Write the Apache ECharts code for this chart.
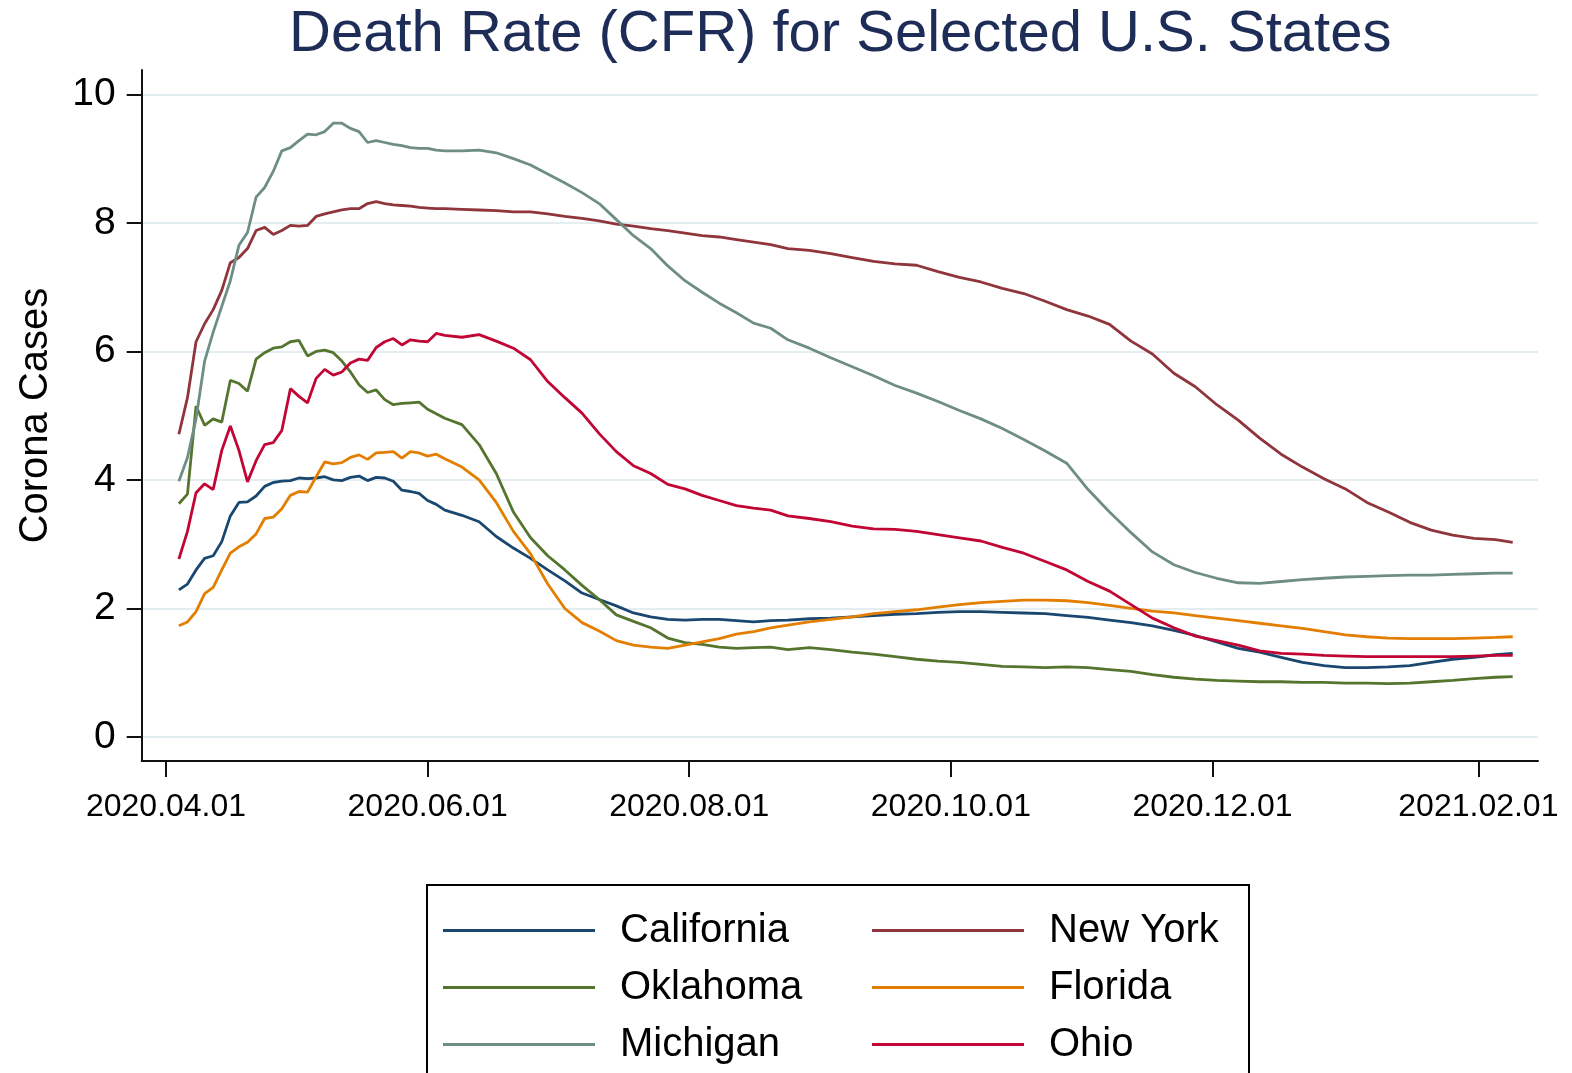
<!DOCTYPE html>
<html>
<head>
<meta charset="utf-8">
<title>Death Rate (CFR) for Selected U.S. States</title>
<script src="https://cdn.jsdelivr.net/npm/echarts@6/dist/echarts.min.js"></script>
<style>
  html, body { margin: 0; padding: 0; background: #fff; }
  #chart { width: 1572px; height: 1073px; }
</style>
</head>
<body>
<div id="chart"></div>
<script>
// 日期（每两天 / 四天 / 五天取一个点）
const dates = [
  '2020-04-04', '2020-04-06', '2020-04-08', '2020-04-10', '2020-04-12', '2020-04-14', '2020-04-16', '2020-04-18',
  '2020-04-20', '2020-04-22', '2020-04-24', '2020-04-26', '2020-04-28', '2020-04-30', '2020-05-02', '2020-05-04',
  '2020-05-06', '2020-05-08', '2020-05-10', '2020-05-12', '2020-05-14', '2020-05-16', '2020-05-18', '2020-05-20',
  '2020-05-22', '2020-05-24', '2020-05-26', '2020-05-28', '2020-05-30', '2020-06-01', '2020-06-03',
  '2020-06-05', '2020-06-09', '2020-06-13', '2020-06-17', '2020-06-21', '2020-06-25', '2020-06-29', '2020-07-03',
  '2020-07-07', '2020-07-11', '2020-07-15', '2020-07-19', '2020-07-23', '2020-07-27', '2020-07-31', '2020-08-04',
  '2020-08-08', '2020-08-12', '2020-08-16', '2020-08-20', '2020-08-24',
  '2020-08-29', '2020-09-03', '2020-09-08', '2020-09-13', '2020-09-18', '2020-09-23', '2020-09-28', '2020-10-03',
  '2020-10-08', '2020-10-13', '2020-10-18', '2020-10-23', '2020-10-28', '2020-11-02', '2020-11-07', '2020-11-12',
  '2020-11-17', '2020-11-22', '2020-11-27', '2020-12-02', '2020-12-07', '2020-12-12', '2020-12-17', '2020-12-22',
  '2020-12-27', '2021-01-01', '2021-01-06', '2021-01-11', '2021-01-16', '2021-01-21', '2021-01-26', '2021-01-31',
  '2021-02-05', '2021-02-09'
];

const california = [
  2.29, 2.38, 2.6, 2.78, 2.82, 3.04, 3.44, 3.65, 3.66, 3.75, 3.9, 3.96, 3.98, 3.99, 4.03, 4.02,
  4.03, 4.05, 4.0, 3.99, 4.04, 4.06, 3.99, 4.04, 4.03, 3.98, 3.84, 3.82, 3.79, 3.68, 3.62,
  3.53, 3.45, 3.35, 3.12, 2.94, 2.78, 2.6, 2.43, 2.24, 2.14, 2.04, 1.93, 1.87, 1.83, 1.82, 1.83,
  1.83, 1.81, 1.79, 1.81, 1.82,
  1.84, 1.85, 1.87, 1.89, 1.91, 1.92, 1.94, 1.95, 1.95, 1.94, 1.93, 1.92, 1.89, 1.86, 1.82, 1.78,
  1.73, 1.66, 1.58, 1.48, 1.38, 1.32, 1.24, 1.16, 1.11, 1.08, 1.08, 1.09, 1.11, 1.16, 1.21, 1.24,
  1.28, 1.30
];

const newYork = [
  4.71, 5.28, 6.15, 6.43, 6.65, 6.95, 7.38, 7.46, 7.6, 7.88, 7.93, 7.82, 7.88, 7.96, 7.95, 7.96,
  8.1, 8.14, 8.17, 8.2, 8.22, 8.22, 8.3, 8.33, 8.3, 8.28, 8.27, 8.26, 8.24, 8.23, 8.22,
  8.22, 8.21, 8.2, 8.19, 8.17, 8.17, 8.14, 8.1, 8.07, 8.03, 7.98, 7.95, 7.91, 7.88, 7.84, 7.8,
  7.78, 7.74, 7.7, 7.66, 7.6,
  7.57, 7.52, 7.46, 7.4, 7.36, 7.34, 7.24, 7.15, 7.08, 6.98, 6.9, 6.78, 6.65, 6.55, 6.42, 6.16,
  5.96, 5.66, 5.45, 5.17, 4.93, 4.65, 4.4, 4.2, 4.02, 3.86, 3.65, 3.5, 3.34, 3.22, 3.14, 3.09,
  3.07, 3.03
];

const oklahoma = [
  3.63, 3.78, 5.15, 4.85, 4.95, 4.9, 5.55, 5.5, 5.38, 5.88, 5.98, 6.05, 6.07, 6.15, 6.17, 5.93,
  6.0, 6.02, 5.98, 5.85, 5.68, 5.48, 5.36, 5.4, 5.25, 5.17, 5.19, 5.2, 5.21, 5.1, 5.03,
  4.96, 4.86, 4.55, 4.1, 3.5, 3.1, 2.82, 2.6, 2.36, 2.14, 1.9, 1.8, 1.7, 1.54, 1.47, 1.44,
  1.4, 1.38, 1.39, 1.4, 1.36,
  1.39, 1.36, 1.32, 1.29, 1.25, 1.21, 1.18, 1.16, 1.13, 1.1, 1.09, 1.08, 1.09, 1.08, 1.05, 1.02,
  0.97, 0.93, 0.9, 0.88, 0.87, 0.86, 0.86, 0.85, 0.85, 0.84, 0.84, 0.83, 0.84, 0.86, 0.88, 0.91,
  0.93, 0.94
];

const florida = [
  1.73, 1.79, 1.95, 2.23, 2.33, 2.6, 2.86, 2.96, 3.03, 3.16, 3.4, 3.42, 3.55, 3.76, 3.82, 3.81,
  4.05, 4.28, 4.25, 4.27, 4.35, 4.39, 4.32, 4.42, 4.43, 4.44, 4.34, 4.44, 4.42, 4.37, 4.4,
  4.33, 4.2, 4.0, 3.65, 3.2, 2.85, 2.38, 2.0, 1.78, 1.65, 1.5, 1.43, 1.4, 1.38, 1.43, 1.48,
  1.53, 1.6, 1.64, 1.7, 1.74,
  1.79, 1.83, 1.87, 1.92, 1.95, 1.98, 2.02, 2.06, 2.09, 2.11, 2.13, 2.13, 2.12, 2.09, 2.05, 2.0,
  1.96, 1.93, 1.89, 1.85, 1.81, 1.77, 1.73, 1.69, 1.64, 1.59, 1.56, 1.54, 1.53, 1.53, 1.53, 1.54,
  1.55, 1.56
];

const michigan = [
  3.98, 4.35, 4.95, 5.85, 6.3, 6.7, 7.1, 7.65, 7.85, 8.4, 8.55, 8.8, 9.12, 9.17, 9.28, 9.38,
  9.37, 9.42, 9.55, 9.55, 9.47, 9.42, 9.25, 9.28, 9.25, 9.22, 9.2, 9.17, 9.16, 9.16, 9.13,
  9.12, 9.12, 9.13, 9.09, 9.0, 8.9, 8.76, 8.62, 8.47, 8.3, 8.05, 7.8, 7.6, 7.33, 7.1, 6.92,
  6.75, 6.6, 6.44, 6.36, 6.18,
  6.05, 5.9, 5.76, 5.62, 5.47, 5.35, 5.22, 5.08, 4.95, 4.8, 4.63, 4.45, 4.26, 3.85, 3.5, 3.18,
  2.88, 2.68, 2.56, 2.47, 2.4, 2.39, 2.42, 2.45, 2.47, 2.49, 2.5, 2.51, 2.52, 2.52, 2.53, 2.54,
  2.55, 2.55
];

const ohio = [
  2.77, 3.2, 3.8, 3.94, 3.85, 4.46, 4.84, 4.46, 3.97, 4.3, 4.55, 4.58, 4.77, 5.42, 5.3, 5.2,
  5.58, 5.72, 5.63, 5.68, 5.82, 5.88, 5.86, 6.06, 6.15, 6.2, 6.1, 6.18, 6.16, 6.15, 6.28,
  6.25, 6.22, 6.26, 6.16, 6.05, 5.87, 5.53, 5.28, 5.04, 4.72, 4.44, 4.22, 4.1, 3.93, 3.86, 3.76,
  3.68, 3.6, 3.56, 3.53, 3.44,
  3.4, 3.35, 3.28, 3.24, 3.23, 3.2, 3.15, 3.1, 3.05, 2.95, 2.86, 2.73, 2.6, 2.42, 2.27, 2.06,
  1.85, 1.7, 1.57, 1.5, 1.43, 1.34, 1.3, 1.29, 1.27, 1.26, 1.25, 1.25, 1.25, 1.25, 1.25, 1.26,
  1.27, 1.27
];

// 刻度
const xTickDates = ['2020.04.01', '2020.06.01', '2020.08.01', '2020.10.01', '2020.12.01', '2021.02.01'];
const yTicks = [0, 2, 4, 6, 8, 10];

const FONT = '"Liberation Sans", Arial, sans-serif';
const DAY = 86400000;
const ORIGIN = Date.UTC(2020, 3, 1);

// 日期 -> 距 2020-04-01 的天数
function toDay(s) {
  const p = s.split(/[-.]/);
  return Math.round((Date.UTC(+p[0], +p[1] - 1, +p[2]) - ORIGIN) / DAY);
}
// 天数 -> 'YYYY.MM.DD'
function dayLabel(d) {
  const t = new Date(ORIGIN + Math.round(d) * DAY);
  const m = String(t.getUTCMonth() + 1).padStart(2, '0');
  const day = String(t.getUTCDate()).padStart(2, '0');
  return t.getUTCFullYear() + '.' + m + '.' + day;
}
// 拼接 [天数, 值]
function pair(values) {
  return values.map((v, i) => [toDay(dates[i]), v]);
}

const xTicks = xTickDates.map(toDay);

const seriesList = [
  { name: 'California', color: '#1a476f', data: california },
  { name: 'New York', color: '#90353b', data: newYork },
  { name: 'Oklahoma', color: '#55752f', data: oklahoma },
  { name: 'Florida', color: '#e37e00', data: florida },
  { name: 'Michigan', color: '#6e8e84', data: michigan },
  { name: 'Ohio', color: '#c10534', data: ohio }
];

// 图例公共设置（两列分别用两个 legend）
const legendCommon = {
  orient: 'vertical',
  icon: 'rect',
  itemWidth: 152,
  itemHeight: 3,
  itemGap: 12,
  height: 220,
  selectedMode: false,
  textStyle: {
    fontFamily: FONT,
    fontSize: 40,
    color: '#000',
    lineHeight: 45,
    padding: [0, 0, 0, 20]
  }
};

const option = {
  backgroundColor: '#fff',
  animation: false,
  title: {
    text: 'Death Rate (CFR) for Selected U.S. States',
    left: 289,
    top: 3,
    padding: 0,
    textStyle: {
      fontFamily: FONT,
      fontSize: 58,
      fontWeight: 'normal',
      color: '#1e2d58',
      lineHeight: 64
    }
  },
  legend: [
    Object.assign({}, legendCommon, {
      data: ['California', 'Oklahoma', 'Michigan'],
      left: 427,
      top: 885,
      padding: [23, 29, 40, 16],
      borderColor: '#000',
      borderWidth: 2,
      textStyle: Object.assign({}, legendCommon.textStyle, { width: 600 })
    }),
    Object.assign({}, legendCommon, {
      data: ['New York', 'Florida', 'Ohio'],
      left: 872,
      top: 908,
      padding: 0
    })
  ],
  grid: {
    left: 141.7,
    right: 34,
    top: 70,
    bottom: 312
  },
  xAxis: {
    type: 'value',
    min: -5.67,
    max: 319.9,
    axisLine: { onZero: false, lineStyle: { color: '#111', width: 2 } },
    axisTick: {
      show: true,
      length: 16,
      lineStyle: { color: '#111', width: 2 },
      customValues: xTicks
    },
    axisLabel: {
      customValues: xTicks,
      margin: 30,
      fontFamily: FONT,
      fontSize: 32,
      color: '#000',
      formatter: dayLabel
    },
    splitLine: { show: false }
  },
  yAxis: {
    type: 'value',
    min: -0.373,
    max: 10.378,
    name: 'Corona Cases',
    nameLocation: 'middle',
    nameGap: 86,
    nameTextStyle: { fontFamily: FONT, fontSize: 40, color: '#000' },
    axisLine: { show: true, onZero: false, lineStyle: { color: '#111', width: 2 } },
    axisTick: {
      show: true,
      length: 15,
      lineStyle: { color: '#111', width: 2 },
      customValues: yTicks
    },
    axisLabel: {
      customValues: yTicks,
      margin: 26,
      fontFamily: FONT,
      fontSize: 39,
      color: '#000'
    },
    splitLine: { show: true, lineStyle: { color: '#e4edf0', width: 2 } }
  },
  series: seriesList.map(s => ({
    name: s.name,
    type: 'line',
    color: s.color,
    showSymbol: false,
    symbol: 'none',
    data: pair(s.data),
    lineStyle: { width: 2.8, color: s.color }
  }))
};

const chart = echarts.init(document.getElementById('chart'), null, { renderer: 'canvas' });
chart.setOption(option);
</script>
</body>
</html>
